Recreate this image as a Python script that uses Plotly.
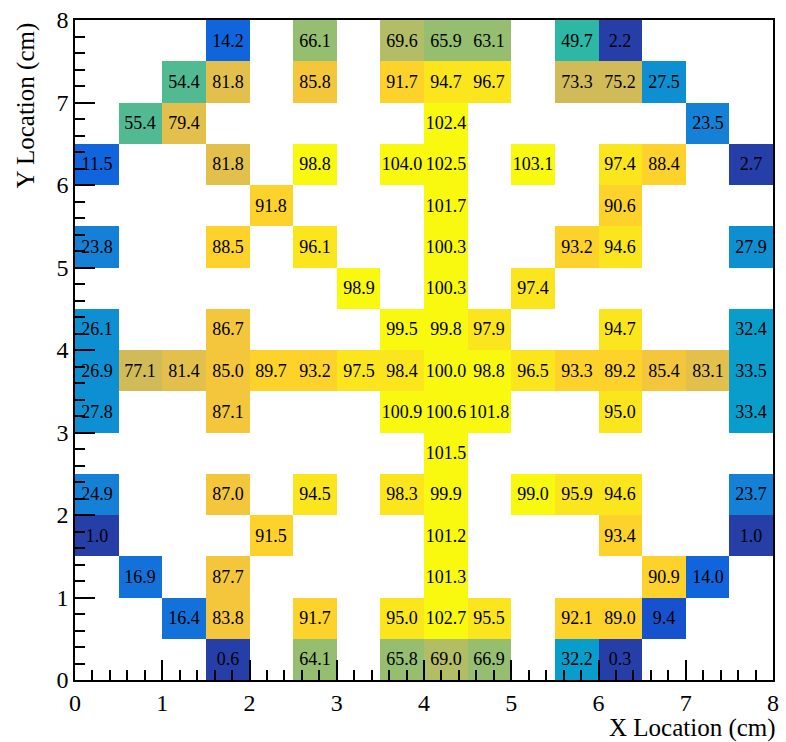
import plotly.graph_objects as go

N = None
# Bin centers (cm), 16 x 16 bins over 0..8
x_centers = [0.25 + 0.5 * i for i in range(16)]
y_centers = [0.25 + 0.5 * i for i in range(16)]

# Bin contents, rows from bottom (y=0.25) to top (y=7.75)
row_00 = [N, N, N, 0.6, N, 64.1, N, 65.8, 69.0, 66.9, N, 32.2, 0.3, N, N, N]
row_01 = [N, N, 16.4, 83.8, N, 91.7, N, 95.0, 102.7, 95.5, N, 92.1, 89.0, 9.4, N, N]
row_02 = [N, 16.9, N, 87.7, N, N, N, N, 101.3, N, N, N, N, 90.9, 14.0, N]
row_03 = [1.0, N, N, N, 91.5, N, N, N, 101.2, N, N, N, 93.4, N, N, 1.0]
row_04 = [24.9, N, N, 87.0, N, 94.5, N, 98.3, 99.9, N, 99.0, 95.9, 94.6, N, N, 23.7]
row_05 = [N, N, N, N, N, N, N, N, 101.5, N, N, N, N, N, N, N]
row_06 = [27.8, N, N, 87.1, N, N, N, 100.9, 100.6, 101.8, N, N, 95.0, N, N, 33.4]
row_07 = [26.9, 77.1, 81.4, 85.0, 89.7, 93.2, 97.5, 98.4, 100.0, 98.8, 96.5, 93.3, 89.2, 85.4, 83.1, 33.5]
row_08 = [26.1, N, N, 86.7, N, N, N, 99.5, 99.8, 97.9, N, N, 94.7, N, N, 32.4]
row_09 = [N, N, N, N, N, N, 98.9, N, 100.3, N, 97.4, N, N, N, N, N]
row_10 = [23.8, N, N, 88.5, N, 96.1, N, N, 100.3, N, N, 93.2, 94.6, N, N, 27.9]
row_11 = [N, N, N, N, 91.8, N, N, N, 101.7, N, N, N, 90.6, N, N, N]
row_12 = [11.5, N, N, 81.8, N, 98.8, N, 104.0, 102.5, N, 103.1, N, 97.4, 88.4, N, 2.7]
row_13 = [N, 55.4, 79.4, N, N, N, N, N, 102.4, N, N, N, N, N, 23.5, N]
row_14 = [N, N, 54.4, 81.8, N, 85.8, N, 91.7, 94.7, 96.7, N, 73.3, 75.2, 27.5, N, N]
row_15 = [N, N, N, 14.2, N, 66.1, N, 69.6, 65.9, 63.1, N, 49.7, 2.2, N, N, N]

z_rows = [row_00, row_01, row_02, row_03, row_04, row_05, row_06, row_07,
          row_08, row_09, row_10, row_11, row_12, row_13, row_14, row_15]

x_tick_vals = [0, 1, 2, 3, 4, 5, 6, 7, 8]
y_tick_vals = [0, 1, 2, 3, 4, 5, 6, 7, 8]

# ---- ROOT kBird palette, 255 colours, 20 contour levels ----
stops = [0.0, 0.125, 0.25, 0.375, 0.5, 0.625, 0.75, 0.875, 1.0]
red = [0.2082, 0.0592, 0.0780, 0.0232, 0.1802, 0.5301, 0.8186, 0.9956, 0.9764]
green = [0.1664, 0.3599, 0.5041, 0.6419, 0.7178, 0.7492, 0.7328, 0.7862, 0.9832]
blue = [0.5293, 0.8684, 0.8385, 0.7914, 0.6425, 0.4662, 0.3499, 0.1968, 0.0539]
NCOL = 255
palette = []
for g in range(1, len(stops)):
    n = int(NCOL * stops[g]) - int(NCOL * stops[g - 1])
    for j in range(n):
        f = j / n
        r = red[g - 1] + (red[g] - red[g - 1]) * f
        gg = green[g - 1] + (green[g] - green[g - 1]) * f
        b = blue[g - 1] + (blue[g] - blue[g - 1]) * f
        palette.append((r, gg, b))
while len(palette) < NCOL:
    palette.append((red[-1], green[-1], blue[-1]))

NDIV = 20
colorscale = []
for i in range(NDIV):
    k = int((i + 0.99) * NCOL / NDIV)
    k = min(k, NCOL - 1)
    r, gg, b = palette[k]
    c = "rgb(%d,%d,%d)" % (round(r * 255), round(gg * 255), round(b * 255))
    colorscale.append([i / NDIV, c])
    colorscale.append([(i + 1) / NDIV, c])

all_vals = [v for row in z_rows for v in row if v is not None]
zmin = 0.0
zmax = max(all_vals)

text = [["" if v is None else "%.1f" % v for v in row] for row in z_rows]

fig = go.Figure(go.Heatmap(
    x=x_centers, y=y_centers, z=z_rows,
    zmin=zmin, zmax=zmax,
    colorscale=colorscale, showscale=False,
    text=text, texttemplate="%{text}",
    textfont=dict(family="Liberation Serif", size=18, color="black"),
    hoverinfo="skip",
))

axis_common = dict(
    range=[0, 8], showgrid=False, zeroline=False,
    showline=True, linecolor="black", linewidth=1.5, mirror=True,
    ticks="inside", ticklen=20, tickwidth=1.5, tickcolor="black",
    minor=dict(ticks="inside", ticklen=10, tickwidth=1.5, tickcolor="black", dtick=0.2),
    tickfont=dict(family="Liberation Serif", size=24, color="black"),
    ticklabeloverflow="allow",
)

fig.update_xaxes(tickvals=x_tick_vals, **axis_common)
fig.update_yaxes(tickvals=y_tick_vals, **axis_common)

fig.update_layout(
    width=786, height=742,
    margin=dict(l=75, r=7, t=11, b=62),
    plot_bgcolor="white", paper_bgcolor="white",
    annotations=[
        dict(text="X Location (cm)", xref="paper", yref="paper", x=1, y=0,
             xanchor="right", yanchor="top", yshift=-32, xshift=5, showarrow=False,
             font=dict(family="Liberation Serif", size=25, color="black")),
        dict(text="Y Location (cm)", xref="paper", yref="paper",
             x=(26 - 75) / 704, y=1, xanchor="center", yanchor="top",
             textangle=-90, showarrow=False,
             font=dict(family="Liberation Serif", size=25, color="black")),
    ],
)

fig.write_html("out.html")
